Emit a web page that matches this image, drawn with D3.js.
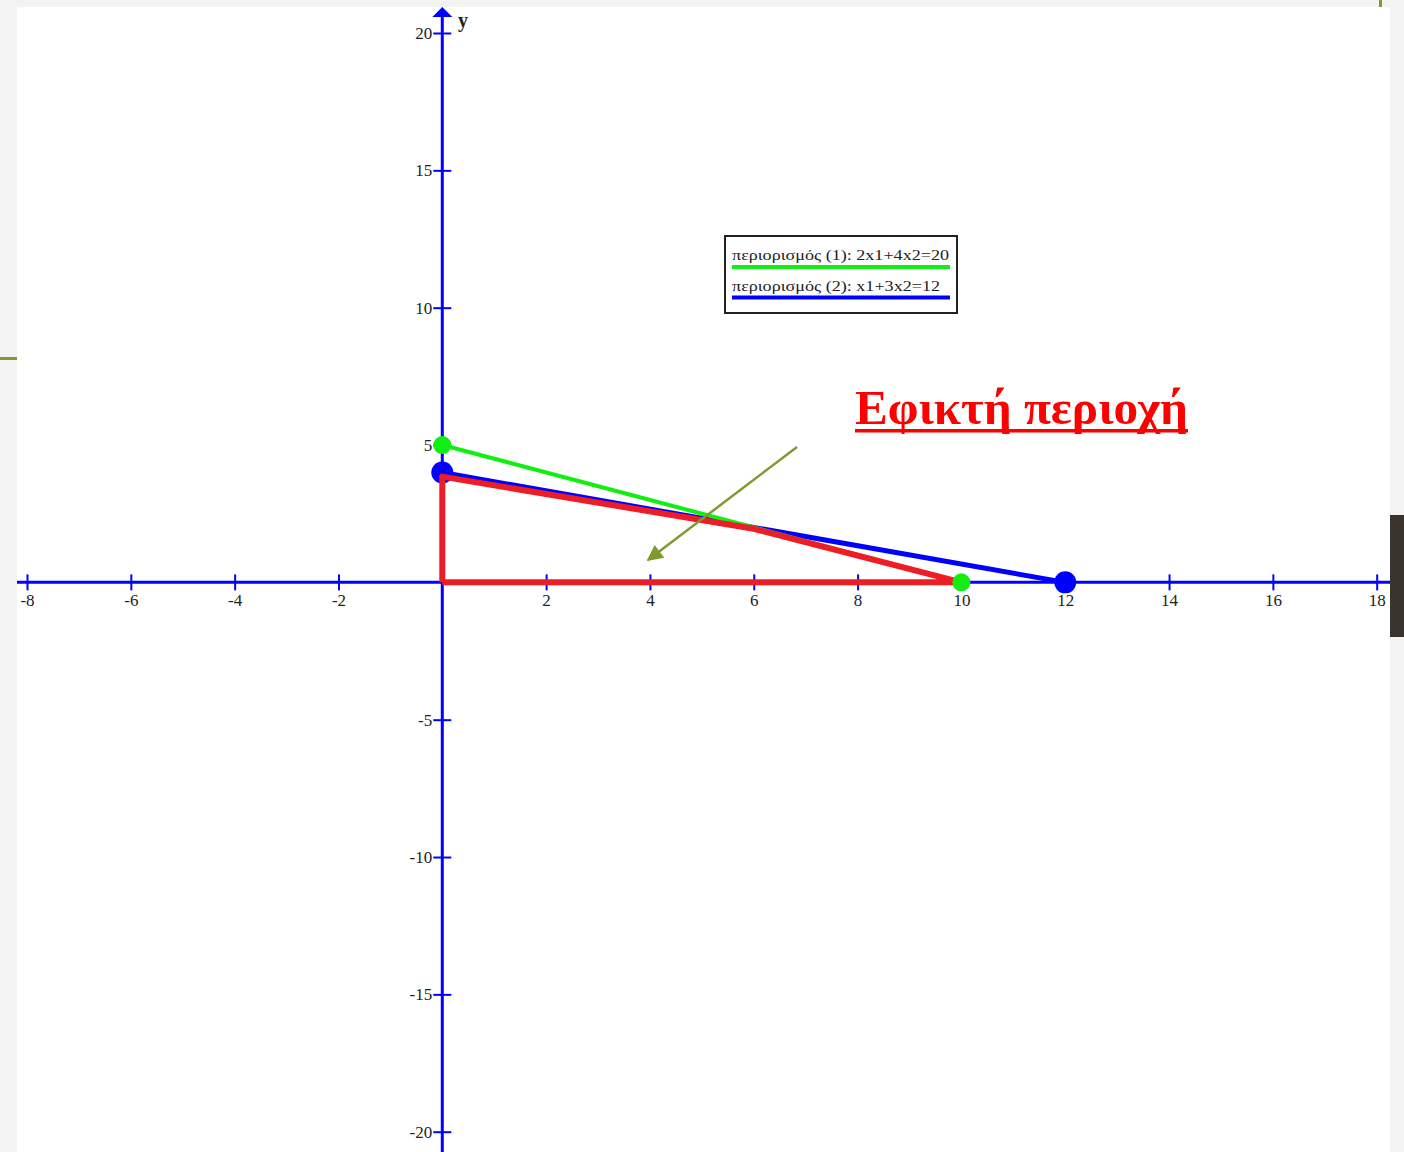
<!DOCTYPE html>
<html><head><meta charset="utf-8">
<script src="https://cdn.jsdelivr.net/npm/d3@7"></script>
<style>html,body{margin:0;padding:0;background:#f3f3f3;}svg{display:block;}</style>
</head><body>
<script>
// Data
const xTicks = [-8,-6,-4,-2,2,4,6,8,10,12,14,16,18];
const yTicks = [-20,-15,-10,-5,5,10,15,20];
const constraint1 = [[0,5],[10,0]];          // 2x1+4x2=20
const constraint2 = [[0,4],[12,0]];          // x1+3x2=12
const feasible = [[0,0],[0,3.85],[6,1.95],[10,0],[0,0]];
const legendLabels = ["περιορισμός (1): 2x1+4x2=20","περιορισμός (2): x1+3x2=12"];
const titleText = "Εφικτή περιοχή";

const W=1404,H=1152;
const svg=d3.select("body").append("svg").attr("width",W).attr("height",H);
svg.append("rect").attr("width",W).attr("height",H).attr("fill","#f3f3f3");
svg.append("rect").attr("x",17).attr("y",7).attr("width",1373).attr("height",H-7).attr("fill","#ffffff");
// decorative slide bits
svg.append("rect").attr("x",0).attr("y",357).attr("width",17).attr("height",3).attr("fill","#7f9a2e");
svg.append("rect").attr("x",1379).attr("y",0).attr("width",3).attr("height",7).attr("fill","#7f9a2e");
svg.append("rect").attr("x",1390).attr("y",515).attr("width",14).attr("height",122).attr("fill","#3a342e");

const x=d3.scaleLinear().domain([-8,18]).range([27,1376.7]);
const y=d3.scaleLinear().domain([-20,20]).range([1131.7,33]);
const blue="#0000ff", green="#11ee11", red="#ee1c25";

// axes lines
svg.append("line").attr("x1",17).attr("x2",1390).attr("y1",y(0)).attr("y2",y(0)).attr("stroke",blue).attr("stroke-width",3);
svg.append("line").attr("x1",x(0)).attr("x2",x(0)).attr("y1",14).attr("y2",H).attr("stroke",blue).attr("stroke-width",3);
svg.append("path").attr("d",`M${x(0)},7 L${x(0)-10},17 L${x(0)+10},17 Z`).attr("fill",blue);

const font="'Liberation Serif','Times New Roman',serif";
const fmt=d=>String(d);
const xa=svg.append("g").attr("transform",`translate(0,${y(0)})`)
  .call(d3.axisBottom(x).tickValues(xTicks).tickFormat(fmt).tickSize(8).tickPadding(4));
xa.select(".domain").remove();
xa.selectAll(".tick line").attr("y1",-8).attr("y2",8).attr("stroke",blue).attr("stroke-width",2);
xa.selectAll(".tick text").attr("font-family",font).attr("font-size",17).attr("fill","#222");

const ya=svg.append("g").attr("transform",`translate(${x(0)},0)`)
  .call(d3.axisLeft(y).tickValues(yTicks).tickFormat(fmt).tickSize(9).tickPadding(1));
ya.select(".domain").remove();
ya.selectAll(".tick line").attr("x1",-9).attr("x2",9).attr("stroke",blue).attr("stroke-width",2);
ya.selectAll(".tick text").attr("font-family",font).attr("font-size",17).attr("fill","#222");

svg.append("text").attr("x",458).attr("y",27).attr("font-family",font).attr("font-weight","bold").attr("font-size",20).attr("fill","#222").text("y");

const line=d3.line().x(d=>x(d[0])).y(d=>y(d[1]));
svg.append("path").attr("d",line(constraint2)).attr("stroke",blue).attr("stroke-width",5).attr("fill","none");
svg.selectAll(".bc").data(constraint2).enter().append("circle").attr("cx",d=>x(d[0])).attr("cy",d=>y(d[1])).attr("r",11).attr("fill",blue);
svg.append("path").attr("d",line(constraint1)).attr("stroke",green).attr("stroke-width",4).attr("fill","none");
svg.append("path").attr("d",line(feasible)).attr("stroke",red).attr("stroke-width",6).attr("fill","none").attr("stroke-linejoin","round");
svg.selectAll(".gc").data(constraint1).enter().append("circle").attr("cx",d=>x(d[0])).attr("cy",d=>y(d[1])).attr("r",9).attr("fill",green);

// legend
const lg=svg.append("g");
lg.append("rect").attr("x",725).attr("y",236).attr("width",232).attr("height",77).attr("fill","#fff").attr("stroke","#222").attr("stroke-width",2);
const lcol=[green,blue];
legendLabels.forEach((t,i)=>{
  lg.append("text").attr("x",732).attr("y",260+i*31).attr("font-family",font).attr("font-size",15).attr("fill","#222")
    .attr("textLength",i===0?217:208).attr("lengthAdjust","spacingAndGlyphs").text(t);
  lg.append("line").attr("x1",732).attr("x2",950).attr("y1",267+i*30.5).attr("y2",267+i*30.5).attr("stroke",lcol[i]).attr("stroke-width",4);
});

// title
svg.append("text").attr("x",855).attr("y",424).attr("font-family",font).attr("font-weight","bold").attr("font-size",48)
  .attr("fill","#ff0000").attr("textLength",333).attr("lengthAdjust","spacingAndGlyphs").text(titleText);
svg.append("rect").attr("x",855).attr("y",429).attr("width",333).attr("height",3.5).attr("fill","#ff0000");

// arrow
svg.append("defs").append("marker").attr("id","ah").attr("viewBox","0 0 10 10").attr("refX",9).attr("refY",5)
  .attr("markerWidth",18).attr("markerHeight",16).attr("markerUnits","userSpaceOnUse").attr("orient","auto")
  .append("path").attr("d","M0,0 L10,5 L0,10 Z").attr("fill","#7f9a2e");
svg.append("line").attr("x1",797).attr("y1",447).attr("x2",648).attr("y2",560).attr("stroke","#7f9a2e").attr("stroke-width",2.5).attr("marker-end","url(#ah)");
</script>
</body></html>
